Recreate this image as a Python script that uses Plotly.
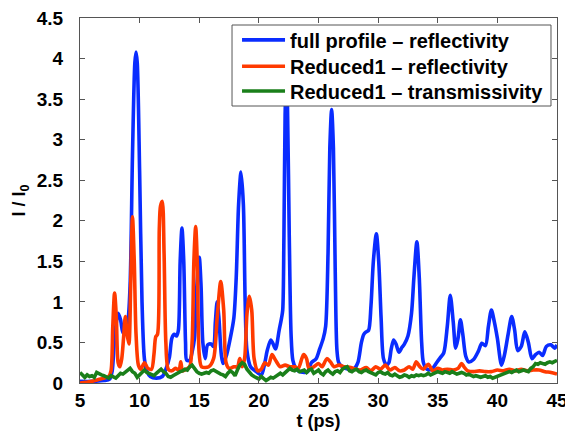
import plotly.graph_objects as go

# Time axis (ps) and normalised intensity I/I0 for each run
t_full = [5.0, 6.0, 7.0, 7.5, 7.7, 7.9, 8.2, 8.4, 8.6, 8.8, 9.0, 9.2, 9.4, 9.6, 9.7, 9.8,
          10.0, 10.2, 10.4, 10.6, 10.9, 11.4, 11.9, 12.2, 12.5, 12.7, 12.9, 13.1, 13.25,
          13.4, 13.55, 13.7, 13.85, 13.95, 14.2, 14.4, 14.6, 14.8, 15.0, 15.15, 15.3, 15.5,
          15.7, 16.0, 16.2, 16.35, 16.5, 16.65, 16.85, 17.0, 17.3, 17.6, 17.9, 18.1, 18.3,
          18.5, 18.7, 18.85, 19.0, 19.3, 19.7, 20.2, 20.5, 20.7, 21.0, 21.2, 21.4, 21.7,
          21.9, 22.0, 22.1, 22.2, 22.3, 22.4, 22.55, 22.7, 22.85, 23.1, 23.3, 23.8, 24.1,
          24.4, 24.8, 25.1, 25.4, 25.6, 25.8, 25.95, 26.1, 26.25, 26.4, 26.55, 26.7, 27.0,
          27.5, 28.0, 28.3, 28.6, 28.8, 29.0, 29.2, 29.4, 29.6, 29.85, 30.05, 30.25, 30.45,
          30.7, 30.9, 31.1, 31.3, 31.5, 31.75, 32.0, 32.2, 32.5, 32.8, 33.0, 33.25, 33.45,
          33.65, 33.8, 34.1, 34.5, 34.9, 35.2, 35.5, 35.8, 36.05, 36.3, 36.5, 36.7, 36.9,
          37.1, 37.35, 37.6, 38.0, 38.4, 38.7, 39.0, 39.25, 39.5, 39.75, 40.0, 40.35, 40.6,
          40.9, 41.2, 41.45, 41.7, 42.0, 42.3, 42.6, 42.9, 43.2, 43.5, 43.8, 44.1, 44.5,
          44.8, 45.0]
r_full = [0.02, 0.02, 0.03, 0.05, 0.15, 0.55, 0.86, 0.78, 0.62, 0.68, 0.75, 1.2, 2.8, 3.95,
          4.08, 3.95, 2.6, 1.0, 0.3, 0.15, 0.08, 0.06, 0.08, 0.17, 0.32, 0.55, 0.6, 0.58,
          0.65, 1.5, 1.91, 1.5, 0.5, 0.28, 0.28, 0.38, 0.55, 1.2, 1.55, 1.2, 0.5, 0.3, 0.47,
          0.48, 0.45, 0.75, 1.0, 0.8, 0.35, 0.24, 0.35, 0.55, 0.8, 1.3, 2.2, 2.6, 2.2, 1.0,
          0.4, 0.2, 0.15, 0.1, 0.25, 0.4, 0.53, 0.48, 0.42, 0.65, 0.8, 0.9, 1.8, 3.3, 3.8,
          3.4, 1.8, 0.6, 0.28, 0.18, 0.15, 0.13, 0.14, 0.25, 0.3, 0.42, 0.55, 0.7, 1.6, 2.9,
          3.37, 2.9, 1.4, 0.4, 0.25, 0.2, 0.17, 0.18, 0.25, 0.5, 0.6, 0.63, 0.65, 0.95, 1.5,
          1.84, 1.5, 0.8, 0.3, 0.22, 0.25, 0.42, 0.53, 0.48, 0.38, 0.44, 0.48, 0.58, 0.86,
          1.3, 1.74, 1.3, 0.5, 0.25, 0.17, 0.17, 0.25, 0.31, 0.37, 0.7, 1.08, 0.75, 0.43,
          0.55, 0.78, 0.6, 0.33, 0.26, 0.29, 0.39, 0.49, 0.46, 0.7, 0.9, 0.75, 0.55, 0.22,
          0.35, 0.6, 0.82, 0.65, 0.4, 0.45, 0.63, 0.5, 0.3, 0.35, 0.38, 0.34, 0.45, 0.47,
          0.43, 0.47]

t_red = [5.0, 5.5, 6.0, 6.5, 7.0, 7.4, 7.6, 7.75, 7.9, 8.05, 8.2, 8.35, 8.5, 8.65, 8.8, 8.95,
         9.1, 9.25, 9.4, 9.55, 9.7, 9.9, 10.1, 10.4, 10.7, 11.0, 11.2, 11.35, 11.5, 11.65,
         11.75, 11.9, 12.05, 12.2, 12.4, 12.7, 13.0, 13.3, 13.45, 13.6, 13.9, 14.2, 14.4,
         14.55, 14.7, 14.85, 15.0, 15.2, 15.8, 16.2, 16.5, 16.8, 17.05, 17.25, 17.5, 17.9,
         18.2, 18.4, 18.6, 18.8, 19.0, 19.2, 19.4, 19.6, 19.9, 20.2, 20.5, 20.8, 21.1, 21.4,
         21.8, 22.2, 22.6, 23.0, 23.3, 23.6, 23.75, 24.0, 24.2, 24.6, 25.0, 25.3, 25.7, 26.0,
         26.3, 26.7, 27.2, 27.7, 28.1, 28.5, 29.0, 29.4, 29.8, 30.2, 30.6, 31.0, 31.4, 31.8,
         32.2, 32.6, 32.9, 33.2, 33.5, 33.8, 34.2, 34.6, 35.0, 35.4, 35.8, 36.3, 36.7, 37.0,
         37.2, 37.5, 38.0, 38.5, 39.0, 39.5, 40.0, 40.5, 41.0, 41.5, 42.0, 42.5, 43.0, 43.5,
         44.0, 44.5, 45.0]
r_red = [0.0, 0.01, 0.02, 0.04, 0.06, 0.08, 0.15, 0.7, 1.11, 0.8, 0.25, 0.2, 0.3, 0.55, 0.82,
         0.6, 0.48, 1.2, 2.05, 1.5, 0.6, 0.22, 0.17, 0.25, 0.18, 0.17, 0.35, 0.57, 0.6, 1.9,
         2.18, 2.24, 1.6, 0.5, 0.17, 0.15, 0.18, 0.16, 0.26, 0.15, 0.17, 0.2, 0.5, 1.5, 1.93,
         1.4, 0.35, 0.2, 0.2, 0.3, 0.8, 1.25, 0.9, 0.25, 0.18, 0.2, 0.2, 0.3, 0.2, 0.3, 0.85,
         1.07, 0.9, 0.3, 0.15, 0.17, 0.25, 0.22, 0.35, 0.28, 0.2, 0.22, 0.2, 0.2, 0.18, 0.3,
         0.35, 0.3, 0.18, 0.2, 0.24, 0.2, 0.3, 0.26, 0.2, 0.22, 0.2, 0.19, 0.17, 0.16, 0.19,
         0.15, 0.2, 0.17, 0.22, 0.16, 0.19, 0.15, 0.16, 0.2, 0.17, 0.26, 0.2, 0.17, 0.23,
         0.15, 0.18, 0.16, 0.17, 0.16, 0.18, 0.24, 0.2, 0.15, 0.14, 0.15, 0.14, 0.14, 0.16,
         0.15, 0.17, 0.15, 0.17, 0.15, 0.16, 0.16, 0.14, 0.13, 0.11]

t_trans = [5.0, 5.2, 5.4, 5.6, 5.8, 6.0, 6.2, 6.4, 6.6, 6.8, 7.0, 7.2, 7.4, 7.6, 7.8, 8.0,
           8.2, 8.4, 8.6, 8.8, 9.0, 9.2, 9.4, 9.6, 9.8, 10.0, 10.2, 10.4, 10.6, 10.8, 11.0,
           11.2, 11.4, 11.6, 11.8, 12.0, 12.2, 12.4, 12.6, 12.8, 13.0, 13.2, 13.4, 13.6, 13.8,
           14.0, 14.2, 14.4, 14.6, 14.8, 15.0, 15.2, 15.4, 15.6, 15.8, 16.0, 16.2, 16.4, 16.6,
           16.8, 17.0, 17.2, 17.4, 17.6, 17.8, 18.0, 18.2, 18.4, 18.6, 18.8, 19.0, 19.2, 19.4,
           19.6, 19.8, 20.0, 20.2, 20.4, 20.6, 20.8, 21.0, 21.2, 21.4, 21.6, 21.8, 22.0, 22.2,
           22.4, 22.6, 22.8, 23.0, 23.2, 23.4, 23.6, 23.8, 24.0, 24.2, 24.4, 24.6, 24.8, 25.0,
           25.2, 25.4, 25.6, 25.8, 26.0, 26.2, 26.4, 26.6, 26.8, 27.0, 27.2, 27.4, 27.6, 27.8,
           28.0, 28.2, 28.4, 28.6, 28.8, 29.0, 29.2, 29.4, 29.6, 29.8, 30.0, 30.2, 30.4, 30.6,
           30.8, 31.0, 31.2, 31.4, 31.6, 31.8, 32.0, 32.2, 32.4, 32.6, 32.8, 33.0, 33.2, 33.4,
           33.6, 33.8, 34.0, 34.2, 34.4, 34.6, 34.8, 35.0, 35.2, 35.4, 35.6, 35.8, 36.0, 36.2,
           36.4, 36.6, 36.8, 37.0, 37.2, 37.4, 37.6, 37.8, 38.0, 38.2, 38.4, 38.6, 38.8, 39.0,
           39.2, 39.4, 39.6, 39.8, 40.0, 40.2, 40.4, 40.6, 40.8, 41.0, 41.2, 41.4, 41.6, 41.8,
           42.0, 42.2, 42.4, 42.6, 42.8, 43.0, 43.2, 43.4, 43.6, 43.8, 44.0, 44.2, 44.4, 44.6,
           44.8, 45.0]
r_trans = [0.13, 0.1, 0.07, 0.1, 0.08, 0.09, 0.07, 0.13, 0.11, 0.1, 0.09, 0.08, 0.06, 0.09,
           0.08, 0.06, 0.09, 0.12, 0.11, 0.13, 0.15, 0.18, 0.14, 0.12, 0.07, 0.1, 0.14, 0.16,
           0.13, 0.12, 0.1, 0.09, 0.12, 0.15, 0.17, 0.14, 0.12, 0.08, 0.07, 0.09, 0.11, 0.12,
           0.14, 0.15, 0.17, 0.16, 0.2, 0.22, 0.17, 0.14, 0.12, 0.11, 0.12, 0.13, 0.12, 0.15,
           0.16, 0.14, 0.13, 0.11, 0.1, 0.08, 0.12, 0.15, 0.13, 0.09, 0.16, 0.22, 0.25, 0.23,
           0.17, 0.13, 0.1, 0.08, 0.06, 0.05, 0.08, 0.06, 0.03, 0.05, 0.07, 0.06, 0.08, 0.1,
           0.12, 0.1, 0.13, 0.16, 0.18, 0.16, 0.15, 0.17, 0.14, 0.15, 0.16, 0.13, 0.16, 0.17,
           0.12, 0.14, 0.16, 0.12, 0.1, 0.14, 0.16, 0.13, 0.11, 0.14, 0.15, 0.13, 0.17, 0.19,
           0.2, 0.15, 0.14, 0.16, 0.17, 0.14, 0.13, 0.15, 0.16, 0.14, 0.13, 0.12, 0.1, 0.13,
           0.14, 0.12, 0.11, 0.13, 0.1, 0.09, 0.11, 0.09, 0.07, 0.08, 0.1, 0.09, 0.07, 0.09,
           0.08, 0.1, 0.09, 0.1, 0.09, 0.1, 0.12, 0.1, 0.11, 0.12, 0.14, 0.13, 0.12, 0.14,
           0.13, 0.12, 0.14, 0.13, 0.11, 0.12, 0.13, 0.12, 0.1, 0.11, 0.09, 0.08, 0.09, 0.08,
           0.07, 0.08, 0.09, 0.07, 0.08, 0.06, 0.07, 0.08, 0.09, 0.1, 0.12, 0.13, 0.14, 0.13,
           0.15, 0.16, 0.14, 0.15, 0.16, 0.15, 0.14, 0.18, 0.2, 0.24, 0.23, 0.25, 0.24, 0.23,
           0.25, 0.26, 0.25, 0.27, 0.28]

series_names = ["full profile \u2013 reflectivity",
                "Reduced1 \u2013 reflectivity",
                "Reduced1 \u2013 transmissivity"]
series_colors = ["#0a2cff", "#ff3a00", "#1a7f1a"]

x_ticks = [5, 10, 15, 20, 25, 30, 35, 40, 45]
y_ticks = [0, 0.5, 1, 1.5, 2, 2.5, 3, 3.5, 4, 4.5]

FONT = "Liberation Sans, Arial, Helvetica, sans-serif"
AXIS_GREY = "#555555"
LINE_W = 3.6

fig = go.Figure()
fig.add_trace(go.Scatter(x=t_full, y=r_full, mode="lines", name=series_names[0], legend="legend",
                         line=dict(color=series_colors[0], width=LINE_W, shape="spline", smoothing=0.8)))
fig.add_trace(go.Scatter(x=t_red, y=r_red, mode="lines", name=series_names[1], legend="legend2",
                         line=dict(color=series_colors[1], width=LINE_W, shape="spline", smoothing=0.8)))
fig.add_trace(go.Scatter(x=t_trans, y=r_trans, mode="lines", name=series_names[2], legend="legend3",
                         line=dict(color=series_colors[2], width=LINE_W)))

axis_common = dict(
    showline=True, linecolor=AXIS_GREY, linewidth=1, mirror="ticks",
    ticks="inside", ticklen=5, tickcolor=AXIS_GREY, showgrid=False, zeroline=False,
    automargin=False, ticklabeloverflow="allow",
    tickfont=dict(family=FONT, size=19, color="black", weight="bold"),
)

fig.update_xaxes(range=[5, 45], tickvals=x_ticks, ticktext=[str(v) for v in x_ticks],
                 ticklabelstandoff=0,
                 title=dict(text="t (ps)", font=dict(family=FONT, size=18, color="black", weight="bold"),
                            standoff=0),
                 **axis_common)
fig.update_yaxes(range=[0, 4.5], tickvals=y_ticks, ticktext=[f"{v:g}" for v in y_ticks],
                 ticklabelstandoff=12,
                 title=dict(text="I / I<sub>0</sub>", font=dict(family=FONT, size=18, color="black", weight="bold"),
                            standoff=6),
                 **axis_common)

# Legend frame: a white box over the traces, with one legend row per series inside it
fig.add_shape(type="rect", xref="paper", yref="paper",
              x0=0.3187, x1=0.9874, y0=0.7589, y1=0.9808,
              fillcolor="white", line=dict(color=AXIS_GREY, width=1), layer="above")

legend_rows = [0.9400, 0.8680, 0.8000]
legend_common = dict(x=0.3292, xanchor="left", yanchor="middle",
                     bgcolor="rgba(0,0,0,0)", borderwidth=0,
                     font=dict(family=FONT, size=20, color="black", weight="bold"),
                     itemwidth=43)

fig.update_layout(
    width=565, height=432,
    margin=dict(l=80, r=8, t=18, b=49),
    plot_bgcolor="white", paper_bgcolor="white",
    showlegend=True,
    legend=dict(y=legend_rows[0], **legend_common),
    legend2=dict(y=legend_rows[1], **legend_common),
    legend3=dict(y=legend_rows[2], **legend_common),
)

fig.write_html("out.html")
